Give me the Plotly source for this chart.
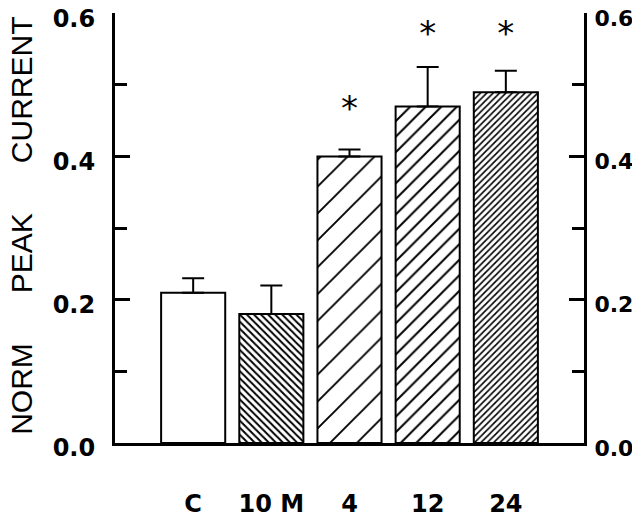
import plotly.graph_objects as go

# data
groups = ["C", "10 M", "4", "12", "24"]
peak = [0.21, 0.18, 0.40, 0.47, 0.49]
sem = [0.02, 0.04, 0.01, 0.055, 0.03]
star_groups = ["4", "12", "24"]
star_y = [0.463, 0.568, 0.568]
y_ticks = [0.0, 0.2, 0.4, 0.6]

hatch = ["", "\\", "/", "/", "/"]
hatch_size = [8, 5, 19, 11, 4.5]
hatch_solid = [0, 0.4, 0.1, 0.18, 0.35]

xpos = list(range(len(groups)))
star_x = [groups.index(g) for g in star_groups]

tick_font = dict(family="DejaVu Sans", size=24, color="black", weight="bold")

fig = go.Figure()
fig.add_trace(go.Bar(
    x=xpos, y=peak, width=0.82,
    marker=dict(
        color="white",
        line=dict(color="black", width=2),
        pattern=dict(shape=hatch, size=hatch_size, solidity=hatch_solid,
                     fgcolor="black", bgcolor="white", fillmode="replace"),
    ),
    error_y=dict(type="data", symmetric=False, array=sem,
                 arrayminus=[0] * len(sem), color="black",
                 thickness=2, width=11),
    showlegend=False,
))
fig.add_trace(go.Scatter(
    x=star_x, y=star_y, mode="text", text=["*"] * len(star_x),
    textposition="middle center",
    textfont=dict(family="DejaVu Sans", size=34, color="black"),
    showlegend=False,
))
# dummy trace so the right-hand axis gets drawn
fig.add_trace(go.Scatter(x=[None], y=[None], yaxis="y2", showlegend=False))

yax = dict(
    range=[0, 0.6005], tickmode="array", tickvals=y_ticks,
    ticktext=[f"{v:.1f}" for v in y_ticks],
    showgrid=False, zeroline=False, automargin=False,
    showline=True, linecolor="black", linewidth=3,
    ticks="inside", ticklen=15, tickwidth=3, tickcolor="black",
    minor=dict(tickmode="linear", tick0=0.1, dtick=0.2, ticks="inside",
               ticklen=12, tickwidth=3, tickcolor="black", showgrid=False),
    tickfont=tick_font, ticklabelstandoff=12, ticklabeloverflow="allow",
    ticklabelshift=5,
)
# the page body adds an 8px offset, so the figure is drawn 8px smaller
fig.update_layout(
    width=632, height=510,
    margin=dict(l=107, r=56, t=5, b=75),
    plot_bgcolor="white", paper_bgcolor="white",
    xaxis=dict(
        range=[-1, 5], tickvals=xpos, ticktext=groups,
        showgrid=False, zeroline=False, automargin=False,
        showline=True, linecolor="black", linewidth=3,
        ticks="", tickfont=tick_font, ticklabelstandoff=37,
    ),
    yaxis=yax,
    yaxis2=dict(yax, overlaying="y", side="right", ticklabelstandoff=3,
                tickfont=dict(tick_font, size=22)),
)
gap = "&nbsp;" * 5 + " "
fig.add_annotation(
    text="NORM" + gap + "PEAK" + gap + "CURRENT",
    xref="paper", yref="paper", x=0, y=0.505, xshift=-93,
    xanchor="center", yanchor="middle", textangle=-90, showarrow=False,
    font=dict(family="Liberation Sans", size=30, color="black"),
)

fig.write_html("out.html")
